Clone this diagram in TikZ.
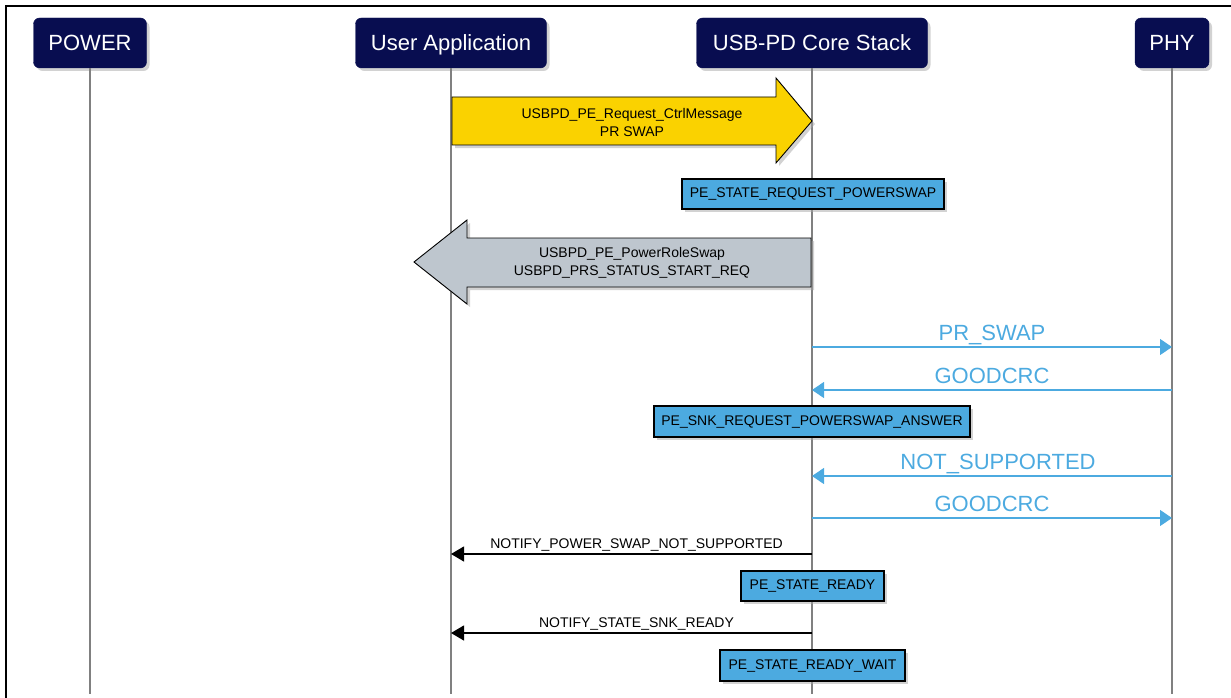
\documentclass[tikz,border=0pt]{standalone}
\usepackage{fontspec}
\setmainfont{Liberation Sans}
\usetikzlibrary{arrows.meta,shadows,positioning}
\definecolor{hdrnavy}{RGB}{8, 13, 80}
\definecolor{lyellow}{RGB}{250, 210, 0}
\definecolor{lgrey}{RGB}{190, 198, 206}
\definecolor{lblue}{RGB}{76, 170, 224}
\definecolor{lline}{RGB}{128, 128, 128}
\tikzstyle{soft shadow} = [drop shadow={shadow xshift=3pt, shadow yshift=-3pt,
    fill=black!35, opacity=0.5}]
\tikzstyle{header} = [rectangle, draw=hdrnavy, fill=hdrnavy, text=white,
  rounded corners=6pt, minimum height=50pt, inner sep=0pt,
  text height=20pt, text depth=4.2pt,
  font=\fontsize{22}{26}\selectfont, soft shadow]
\tikzstyle{state} = [rectangle, draw=black, line width=1.2pt, fill=lblue,
  minimum height=30pt, inner sep=0pt, font=\fontsize{14}{17}\selectfont, soft shadow]
\tikzstyle{call} = [draw=black, line width=0.9pt, soft shadow]
\tikzstyle{call text} = [align=center, font=\fontsize{14}{18}\selectfont]
\tikzstyle{lifeline} = [draw, line width=1.8pt, color=lline]
\tikzstyle{phy msg} = [draw, line width=1.2pt, color=lblue, -{Triangle[length=12pt,width=16pt]}]
\tikzstyle{app msg} = [draw, line width=1.2pt, color=black, -{Triangle[length=13pt,width=15pt]}]
\tikzstyle{phy label} = [anchor=base, yshift=6.5pt, text=lblue, font=\fontsize{22}{26}\selectfont]
\tikzstyle{app label} = [anchor=base, yshift=6pt, text=black, font=\fontsize{14}{17}\selectfont]

\begin{document}
\begin{tikzpicture}[x=1pt, y=-1pt]

  \useasboundingbox (0,0) rectangle (1231,698);
  \draw[line width=2.5pt] (6,698) -- (6,6) -- (1231,6);

  %%%%%%%%%%%%%%%%%%%%%%%%%%%%%%%%%%%%%%%%%%%%%%%%%%%%%%%%%%%%%%
  %                   PARTICIPANTS                             %
  %%%%%%%%%%%%%%%%%%%%%%%%%%%%%%%%%%%%%%%%%%%%%%%%%%%%%%%%%%%%%%

  \node [header, minimum width=113pt] at (90,43) (power) {POWER};
  \node [header, minimum width=191pt] at (451,43) (user-app) {User Application};
  \node [header, minimum width=231pt] at (812,43) (core-stack) {USB-PD Core Stack};
  \node [header, minimum width=74pt] at (1172,43) (phy) {PHY};

  \coordinate (power-end) at (90,694);
  \coordinate (user-app-end) at (451,694);
  \coordinate (core-stack-end) at (812,694);
  \coordinate (phy-end) at (1172,694);
  \draw[lifeline] (power) -- (power-end);
  \draw[lifeline] (user-app) -- (user-app-end);
  \draw[lifeline] (core-stack) -- (core-stack-end);
  \draw[lifeline] (phy) -- (phy-end);

  %%%%%%%%%%%%%%%%%%%%%%%%%%%%%%%%%%%%%%%%%%%%%%%%%%%%%%%%%%%%%%
  %                   POWER ROLE SWAP REQUEST                  %
  %%%%%%%%%%%%%%%%%%%%%%%%%%%%%%%%%%%%%%%%%%%%%%%%%%%%%%%%%%%%%%

  \draw[call, fill=lyellow] (452,97) -- (776,97) -- (776,78) -- (812,121)
    -- (776,163) -- (776,145) -- (452,145) -- cycle;
  \node [call text] at (632,122) (ctrl-message) {
    USBPD\_PE\_Request\_CtrlMessage\\PR SWAP
  };

  \node [state, minimum width=262pt] at (813,194) (request-powerswap) {PE\_STATE\_REQUEST\_POWERSWAP};

  \draw[call, fill=lgrey] (811,238) -- (467,238) -- (467,220) -- (414,262)
    -- (467,304) -- (467,287) -- (811,287) -- cycle;
  \node [call text] at (632,262.5) (power-role-swap) {
    USBPD\_PE\_PowerRoleSwap\\USBPD\_PRS\_STATUS\_START\_REQ
  };

  %%%%%%%%%%%%%%%%%%%%%%%%%%%%%%%%%%%%%%%%%%%%%%%%%%%%%%%%%%%%%%
  %                   PHY MESSAGES                             %
  %%%%%%%%%%%%%%%%%%%%%%%%%%%%%%%%%%%%%%%%%%%%%%%%%%%%%%%%%%%%%%

  \draw[phy msg] (core-stack |- 0,347) -- (phy |- 0,347)
    node[phy label, midway] {PR\_SWAP};
  \draw[phy msg] (phy |- 0,390) -- (core-stack |- 0,390)
    node[phy label, midway] {GOODCRC};

  \node [state, minimum width=316pt, minimum height=31pt] at (812,421.5) (snk-answer) {PE\_SNK\_REQUEST\_POWERSWAP\_ANSWER};

  \draw[phy msg] (phy |- 0,476) -- (core-stack |- 0,476)
    node[phy label, midway, xshift=6pt] {NOT\_SUPPORTED};
  \draw[phy msg] (core-stack |- 0,518) -- (phy |- 0,518)
    node[phy label, midway] {GOODCRC};

  %%%%%%%%%%%%%%%%%%%%%%%%%%%%%%%%%%%%%%%%%%%%%%%%%%%%%%%%%%%%%%
  %                   NOTIFICATIONS                            %
  %%%%%%%%%%%%%%%%%%%%%%%%%%%%%%%%%%%%%%%%%%%%%%%%%%%%%%%%%%%%%%

  \draw[app msg] (core-stack |- 0,554) -- (user-app |- 0,554)
    node[app label, midway, xshift=5pt] {NOTIFY\_POWER\_SWAP\_NOT\_SUPPORTED};

  \node [state, minimum width=143pt] at (812.5,586) (state-ready) {PE\_STATE\_READY};

  \draw[app msg] (core-stack |- 0,633) -- (user-app |- 0,633)
    node[app label, midway, xshift=5pt] {NOTIFY\_STATE\_SNK\_READY};

  \node [state, minimum width=185pt, minimum height=31pt] at (812.5,665.5) (ready-wait) {PE\_STATE\_READY\_WAIT};

\end{tikzpicture}
\end{document}
